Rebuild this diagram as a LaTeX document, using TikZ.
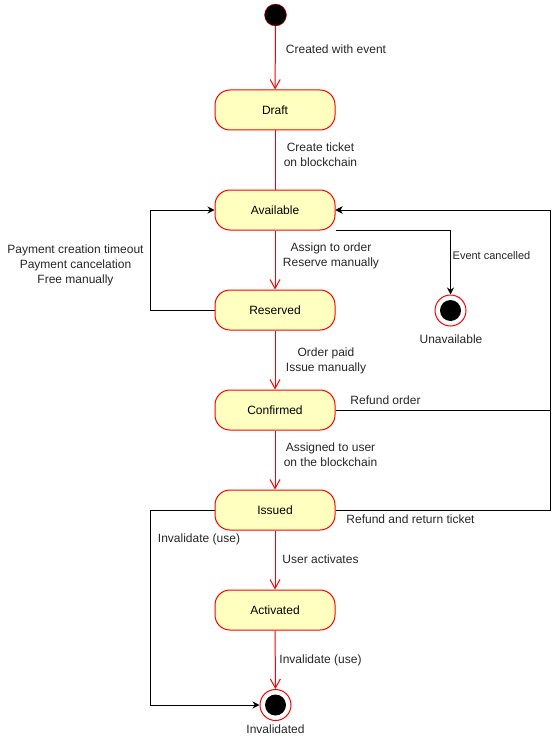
\documentclass[tikz,border=0pt]{standalone}
\usepackage{fontspec}
\setmainfont{Liberation Sans}
\usetikzlibrary{arrows.meta,positioning,backgrounds}

\begin{document}
\begin{tikzpicture}[
    x=1pt, y=-1pt,
    font=\fontsize{12}{15}\selectfont,
    state/.style={draw=red, fill={rgb,255:red,255;green,255;blue,192}, rounded corners=15pt, minimum width=120pt, minimum height=40pt, line width=1pt},
    initial/.style={circle, draw=red, fill=black, minimum size=22pt, inner sep=0pt},
    final/.style={circle, draw=red, fill=white, minimum size=31pt, inner sep=0pt, line width=1pt,
        path picture={\fill[black] (path picture bounding box.center) circle (10.5pt);}},
    trans/.style={draw=red, line width=1pt, -{Straight Barb[length=9pt,width=10pt]}},
    plain/.style={draw=red, line width=1pt},
    back/.style={draw=black, line width=1pt, -{Stealth[length=7pt,width=7pt]}},
    lbl/.style={align=center, text=black!85, inner sep=0pt}
]
    \useasboundingbox (0,0) rectangle (559,741);

    % --- States ---
    \node[initial] (start) at (275.5,15) {};
    \node[state] (draft) at (275,110) {Draft};
    \node[state] (available) at (275,210) {Available};
    \node[state] (reserved) at (275,310) {Reserved};
    \node[state] (confirmed) at (275,410) {Confirmed};
    \node[state] (issued) at (275,510) {Issued};
    \node[state] (activated) at (275,610) {Activated};

    % End states
    \node[final] (unavailable) at (450.5,310.5) {};
    \node[final] (invalidated) at (275.5,705) {};
    \node[lbl] (unavailabletxt) at (451,339) {Unavailable};
    \node[lbl] (invalidatedtxt) at (275.5,729) {Invalidated};

    % Corner points of the side lines
    \coordinate (ltop) at (150,210);
    \coordinate (lbot) at (150,705);
    \coordinate (rtop) at (550,210);

    % --- Main flow (red) ---
    \begin{scope}[on background layer]
    \draw[trans] (start) -- (draft);
    \draw[plain] (draft) -- (available);
    \draw[trans] (available) -- (reserved);
    \draw[trans] (reserved) -- (confirmed);
    \draw[trans] (confirmed) -- (issued);
    \draw[trans] (issued) -- (activated);
    \draw[trans] (activated) -- (invalidated);

    % --- Side transitions (black) ---
    \draw[back] (available.south east) -| (unavailable.north);
    \draw[back] (reserved.west) -| (ltop) -- (available.west);
    \draw[back] (confirmed.east) -| (rtop) -- (available.east);
    \draw[back] (issued.east) -| (rtop) -- (available.east);
    \draw[back] (issued.west) -| (lbot) -- (invalidated.west);
    \end{scope}

    % --- Labels ---
    \node[lbl] (createdtxt) at (336,49) {Created with event};
    \node[lbl] (ticketstxt) at (320.5,155) {Create ticket\\on blockchain};
    \node[lbl] (assigntxt) at (331,255.5) {Assign to order\\Reserve manually};
    \node[lbl] (cancelledtxt) at (491.5,256) {\fontsize{11}{13}\selectfont Event cancelled};
    \node[lbl] (freetxt) at (75.5,265.5) {Payment creation timeout\\Payment cancelation\\Free manually};
    \node[lbl] (paidtxt) at (326,360.5) {Order paid\\Issue manually};
    \node[lbl] (refundtxt) at (385.5,400) {Refund order};
    \node[lbl] (usertxt) at (330.5,455) {Assigned to user\\on the blockchain};
    \node[lbl] (returntxt) at (410.5,519.5) {Refund and return ticket};
    \node[lbl] (uselefttxt) at (199,539.5) {Invalidate (use)};
    \node[lbl] (activatestxt) at (320.5,559.5) {User activates};
    \node[lbl] (usetxt) at (320.5,660) {Invalidate (use)};

\end{tikzpicture}
\end{document}
